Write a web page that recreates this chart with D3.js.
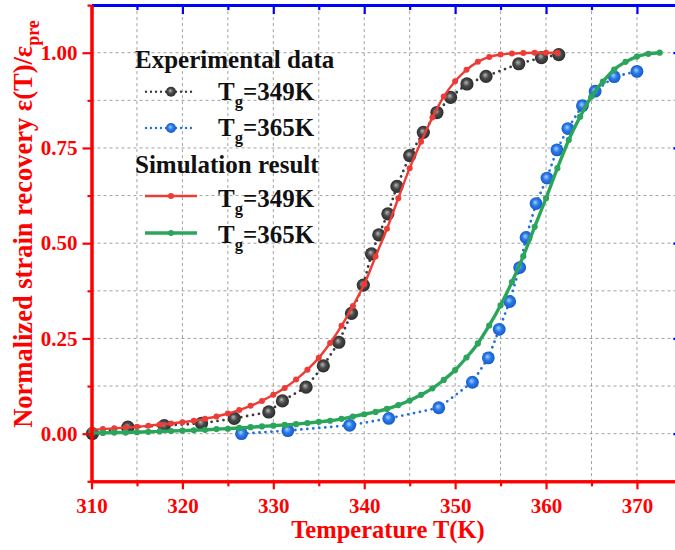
<!DOCTYPE html>
<html>
<head>
<meta charset="utf-8">
<script src="https://cdn.jsdelivr.net/npm/d3@7"></script>
<style>
  body { margin: 0; background: #fff; }
  svg { display: block; }
  text { font-family: "Liberation Serif", "Times New Roman", serif; font-weight: bold; }
</style>
</head>
<body>
<svg id="chart" width="675" height="550"></svg>
<script>
// Axis ticks
const xTicks = [310, 320, 330, 340, 350, 360, 370];
const xMinorTicks = [315, 325, 335, 345, 355, 365, 375];
const yTicks = [0, 0.25, 0.5, 0.75, 1.0];
const yMinorTicks = [-0.125, 0.125, 0.375, 0.625, 0.875, 1.125];

// Experimental data, Tg = 349 K
const expTemp349 = [310.1, 314.0, 318.0, 322.1, 325.7, 329.5, 331.0, 333.6, 335.5, 337.2, 338.6, 339.9, 340.8,
                    341.6, 342.6, 343.6, 345.0, 346.5, 348.0, 349.5, 351.3, 353.4, 357.0, 359.5, 361.4];
const expVal349 = [0.000, 0.017, 0.021, 0.027, 0.040, 0.057, 0.086, 0.122, 0.178, 0.240, 0.316, 0.390, 0.472,
                   0.522, 0.577, 0.649, 0.730, 0.791, 0.843, 0.883, 0.918, 0.938, 0.971, 0.987, 0.995];

// Experimental data, Tg = 365 K
const expTemp365 = [326.5, 331.6, 338.4, 342.7, 348.2, 351.9, 353.65, 354.85, 356.0, 357.1, 357.8, 358.9,
                    360.1, 361.2, 362.4, 364.0, 365.4, 367.5, 370.0];
const expVal365 = [0.000, 0.008, 0.022, 0.040, 0.068, 0.135, 0.199, 0.274, 0.347, 0.436, 0.515, 0.604,
                   0.671, 0.745, 0.801, 0.861, 0.899, 0.937, 0.951];

// Simulation temperatures (shared by both simulated curves)
const simTemp = [310, 311.25, 312.5, 313.75, 315, 316.25, 317.5, 318.75, 320, 321.25, 322.5, 323.75,
                 325, 326.25, 327.5, 328.75, 330, 331.25, 332.5, 333.75, 335, 336.25, 337.5, 338.75,
                 340, 341.25, 342.5, 343.75, 345, 346.25, 347.5, 348.75, 350, 351.25, 352.5, 353.75,
                 355, 356.25, 357.5, 358.75, 360, 361.25, 362.5, 363.75, 365, 366.25, 367.5, 368.75,
                 370, 371.25, 372.5];

// Simulation result, Tg = 349 K
const simVal349 = [0.010, 0.012, 0.014, 0.016, 0.018, 0.021, 0.024, 0.027, 0.030, 0.034, 0.039, 0.045,
                   0.053, 0.062, 0.073, 0.086, 0.102, 0.120, 0.142, 0.168, 0.199, 0.238, 0.283, 0.335,
                   0.392, 0.465, 0.538, 0.618, 0.697, 0.766, 0.830, 0.885, 0.925, 0.955, 0.976, 0.989,
                   0.995, 0.998, 0.999, 1.000, 1.000, 1.000];

// Simulation result, Tg = 365 K
const simVal365 = [0.002, 0.002, 0.003, 0.003, 0.004, 0.005, 0.006, 0.007, 0.008, 0.009, 0.010, 0.012,
                   0.013, 0.015, 0.017, 0.019, 0.021, 0.023, 0.025, 0.028, 0.031, 0.034, 0.039, 0.045,
                   0.051, 0.057, 0.065, 0.075, 0.087, 0.102, 0.119, 0.141, 0.167, 0.200, 0.237, 0.284,
                   0.337, 0.398, 0.466, 0.543, 0.618, 0.697, 0.771, 0.832, 0.885, 0.924, 0.956, 0.976,
                   0.990, 0.997, 1.000];

const svg = d3.select("#chart");

const x = d3.scaleLinear().domain([310, 375]).range([91.5, 682.4]);
const y = d3.scaleLinear().domain([-0.125, 1.125]).range([481.3, 5.1]);

const RED_AXIS = "#ff0000", BLUE_AXIS = "#0000ff";
const C_BLACK = "#3a3a3a", C_BLUE = "#1f6fe3", C_RED = "#ef3b36", C_GREEN = "#2ba55b";

// Gradients for the shaded experimental markers
const defs = svg.append("defs");
function sphere(id, hi, mid, lo) {
  const g = defs.append("radialGradient").attr("id", id)
    .attr("cx", "50%").attr("cy", "50%").attr("r", "55%")
    .attr("fx", "42%").attr("fy", "38%");
  g.append("stop").attr("offset", "0%").attr("stop-color", hi);
  g.append("stop").attr("offset", "45%").attr("stop-color", mid);
  g.append("stop").attr("offset", "100%").attr("stop-color", lo);
}
sphere("ballBlack", "#b8b8b8", "#4a4a4a", "#262626");
sphere("ballBlue", "#a9d0ff", "#2a7bea", "#1454c0");

// Dashed grid
const grid = svg.append("g").attr("stroke", "#a0a0a0").attr("stroke-width", 1)
  .attr("stroke-dasharray", "3,3");
const xGrid = xTicks.concat(xMinorTicks).filter(t => t > 310 && t < 375);
grid.selectAll("line.v").data(xGrid).join("line")
  .attr("x1", d => x(d)).attr("x2", d => x(d))
  .attr("y1", y(1.125)).attr("y2", y(-0.125));
const yGrid = yTicks.concat(yMinorTicks).filter(t => t > -0.125 && t < 1.125);
grid.selectAll("line.h").data(yGrid).join("line")
  .attr("y1", d => y(d)).attr("y2", d => y(d))
  .attr("x1", x(310)).attr("x2", x(375));

// Experimental series: dotted connecting line + shaded balls
const plot = svg.append("g");
const lineGen = d3.line().x(d => x(d[0])).y(d => y(d[1]));
function expSeries(temps, vals, color, grad, r) {
  const pts = temps.map((t, i) => [t, vals[i]]);
  plot.append("path").datum(pts).attr("d", lineGen)
    .attr("fill", "none").attr("stroke", color).attr("stroke-width", 2.8)
    .attr("stroke-linecap", "round").attr("stroke-dasharray", "0,6");
  plot.append("g").selectAll("circle").data(pts).join("circle")
    .attr("cx", d => x(d[0])).attr("cy", d => y(d[1])).attr("r", r)
    .attr("fill", `url(#${grad})`);
}
expSeries(expTemp349, expVal349, C_BLACK, "ballBlack", 6.6);
expSeries(expTemp365, expVal365, C_BLUE, "ballBlue", 6.4);

// Simulation series: solid line + small dots
const smooth = d3.line().x(d => x(d[0])).y(d => y(d[1])).curve(d3.curveMonotoneX);
function simSeries(vals, color, width, r) {
  const pts = vals.map((v, i) => [simTemp[i], v]);
  plot.append("path").datum(pts).attr("d", smooth)
    .attr("fill", "none").attr("stroke", color).attr("stroke-width", width);
  plot.append("g").selectAll("circle").data(pts).join("circle")
    .attr("cx", d => x(d[0])).attr("cy", d => y(d[1])).attr("r", r)
    .attr("fill", color);
}
simSeries(simVal349, C_RED, 2.4, 3);
simSeries(simVal365, C_GREEN, 3.4, 3.1);

// Axes
function styleAxis(g, color, labelled) {
  g.select(".domain").attr("stroke", color).attr("stroke-width", 3);
  g.selectAll(".tick line").attr("stroke", color).attr("stroke-width", 2.2);
  if (labelled) {
    g.selectAll(".tick text").attr("fill", color).attr("font-size", 21)
      .attr("font-family", '"Liberation Serif", "Times New Roman", serif').attr("font-weight", "bold");
  } else {
    g.selectAll(".tick text").remove();
  }
}
const xb = y(-0.125), yt = y(1.125), xl = x(310), xr = x(375);

// top (blue, inward)
const gTopMinor = svg.append("g").attr("transform", `translate(0,${yt})`)
  .call(d3.axisTop(x).tickValues(xMinorTicks).tickSize(-5).tickSizeOuter(0));
styleAxis(gTopMinor, BLUE_AXIS, false);
const gTop = svg.append("g").attr("transform", `translate(0,${yt})`)
  .call(d3.axisTop(x).tickValues(xTicks).tickSize(-9).tickSizeOuter(0));
styleAxis(gTop, BLUE_AXIS, false);

// right (blue, inward)
const gRightMinor = svg.append("g").attr("transform", `translate(${xr},0)`)
  .call(d3.axisRight(y).tickValues(yMinorTicks).tickSize(-5).tickSizeOuter(0));
styleAxis(gRightMinor, BLUE_AXIS, false);
const gRight = svg.append("g").attr("transform", `translate(${xr},0)`)
  .call(d3.axisRight(y).tickValues(yTicks).tickSize(-9).tickSizeOuter(0));
styleAxis(gRight, BLUE_AXIS, false);

// bottom (red, outward)
const gBotMinor = svg.append("g").attr("transform", `translate(0,${xb})`)
  .call(d3.axisBottom(x).tickValues(xMinorTicks).tickSize(5).tickSizeOuter(0));
styleAxis(gBotMinor, RED_AXIS, false);
const gBot = svg.append("g").attr("transform", `translate(0,${xb})`)
  .call(d3.axisBottom(x).tickValues(xTicks).tickSize(8).tickSizeOuter(0)
    .tickFormat(d3.format("d")).tickPadding(9));
styleAxis(gBot, RED_AXIS, true);

// left (red, outward)
const gLeftMinor = svg.append("g").attr("transform", `translate(${xl},0)`)
  .call(d3.axisLeft(y).tickValues(yMinorTicks).tickSize(4).tickSizeOuter(0));
styleAxis(gLeftMinor, RED_AXIS, false);
const gLeft = svg.append("g").attr("transform", `translate(${xl},0)`)
  .call(d3.axisLeft(y).tickValues(yTicks).tickSize(9).tickSizeOuter(0)
    .tickFormat(d3.format(".2f")).tickPadding(5));
styleAxis(gLeft, RED_AXIS, true);

// Axis titles
svg.append("text").attr("x", 388).attr("y", 538).attr("text-anchor", "middle")
  .attr("fill", RED_AXIS).attr("font-size", 24.5).text("Temperature T(K)");

const yTitle = svg.append("text").attr("transform", "translate(32,224) rotate(-90)")
  .attr("text-anchor", "middle").attr("fill", RED_AXIS).attr("font-size", 26.5);
yTitle.append("tspan").text("Normalized strain recovery ε(T)/ε");
yTitle.append("tspan").attr("font-size", 18).attr("dy", 7).text("pre");

// Legend
const legend = svg.append("g");
legend.append("text").attr("x", 135).attr("y", 68).attr("font-size", 25).attr("fill", "#111")
  .text("Experimental data");
legend.append("text").attr("x", 135).attr("y", 173).attr("font-size", 25).attr("fill", "#111")
  .text("Simulation result");

const legendRows = [
  { kind: "exp", color: C_BLACK, grad: "ballBlack", sy: 91.7, ty: 100, label: "349K" },
  { kind: "exp", color: C_BLUE, grad: "ballBlue", sy: 128, ty: 136, label: "365K" },
  { kind: "sim", color: C_RED, width: 2.4, sy: 196, ty: 207, label: "349K" },
  { kind: "sim", color: C_GREEN, width: 3.4, sy: 233, ty: 243, label: "365K" }
];
legendRows.forEach(r => {
  if (r.kind === "exp") {
    legend.append("line").attr("x1", 146).attr("x2", 196).attr("y1", r.sy).attr("y2", r.sy)
      .attr("stroke", r.color).attr("stroke-width", 2.4).attr("stroke-linecap", "round")
      .attr("stroke-dasharray", "0,5");
    legend.append("circle").attr("cx", 171).attr("cy", r.sy).attr("r", 5)
      .attr("fill", `url(#${r.grad})`);
  } else {
    legend.append("line").attr("x1", 145).attr("x2", 197).attr("y1", r.sy).attr("y2", r.sy)
      .attr("stroke", r.color).attr("stroke-width", r.width);
    legend.append("circle").attr("cx", 171).attr("cy", r.sy).attr("r", 3).attr("fill", r.color);
  }
  const t = legend.append("text").attr("x", 218).attr("y", r.ty).attr("font-size", 25).attr("fill", "#111");
  t.append("tspan").text("T");
  t.append("tspan").attr("font-size", 16.5).attr("dy", 7).text("g");
  t.append("tspan").attr("dy", -7).text("=" + r.label);
});
</script>
</body>
</html>
